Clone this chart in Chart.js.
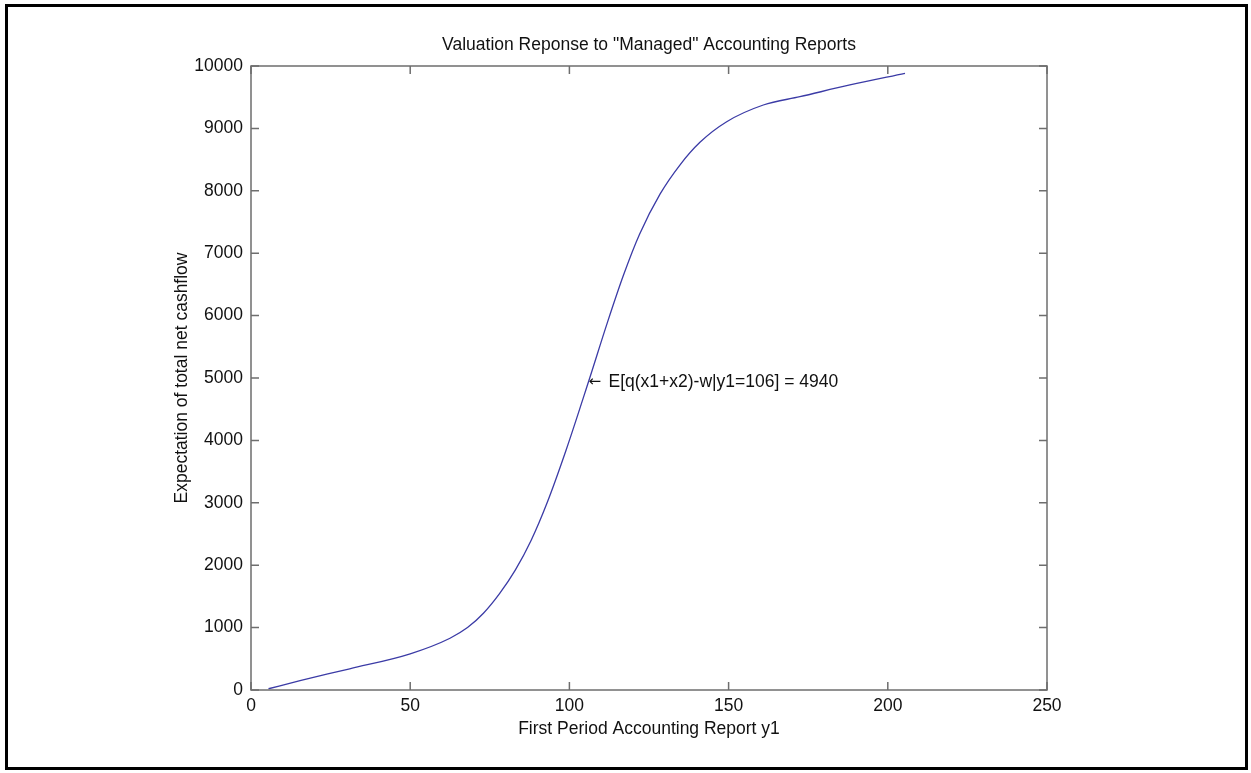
<!DOCTYPE html>
<html>
<head>
<meta charset="utf-8">
<script src="https://cdn.jsdelivr.net/npm/chart.js@4/dist/chart.umd.min.js"></script>
<style>
    body { margin: 0; background: #fff; }
    #wrap { position: relative; width: 1251px; height: 773px; }
    #frame { position: absolute; left: 5px; top: 4px; width: 1237px; height: 760px; border: 3px solid #000; pointer-events: none; }
    canvas { position: absolute; left: 0; top: 0; }
</style>
</head>
<body>
<div id="wrap">
    <canvas id="grafico" width="1251" height="773"></canvas>
    <div id="frame"></div>
</div>
<script>
// Datos
const reporteY1 = [5.5, 15.4, 31, 50, 62.5, 68, 73, 78, 83, 88, 93, 99, 106, 112, 117, 122, 128.5, 134.7, 141, 149.4, 160.9, 172.4, 188.1, 205.4];
const expectativa = [20, 150, 340, 580, 830, 1000, 1230, 1540, 1920, 2400, 3000, 3850, 4940, 5900, 6650, 7300, 7950, 8413, 8777, 9107, 9375, 9508, 9696, 9883];
const ticksX = [0, 50, 100, 150, 200, 250];
const ticksY = [0, 1000, 2000, 3000, 4000, 5000, 6000, 7000, 8000, 9000, 10000];
const notaX = 106;
const notaY = 4940;
const notaFlecha = "\u2190";
const notaTexto = "E[q(x1+x2)-w|y1=106] = 4940";

const fuente = "'Liberation Sans', Arial, sans-serif";
const tamFuente = 17.5;

// Caja con marcas hacia adentro (estilo MATLAB) y anotacion
const cajaPlugin = {
    id: "cajaMatlab",
    afterDraw(chart) {
        const { ctx, chartArea: a, scales: { x, y } } = chart;
        ctx.save();
        ctx.strokeStyle = "#6e6e6e";
        ctx.lineWidth = 1.5;
        ctx.strokeRect(a.left, a.top, a.right - a.left, a.bottom - a.top);
        ctx.beginPath();
        ticksX.forEach(v => {
            const px = x.getPixelForValue(v);
            ctx.moveTo(px, a.bottom); ctx.lineTo(px, a.bottom - 8);
            ctx.moveTo(px, a.top); ctx.lineTo(px, a.top + 8);
        });
        ticksY.forEach(v => {
            const py = y.getPixelForValue(v);
            ctx.moveTo(a.left, py); ctx.lineTo(a.left + 8, py);
            ctx.moveTo(a.right, py); ctx.lineTo(a.right - 8, py);
        });
        ctx.stroke();

        // Anotacion: flecha + texto
        const px = x.getPixelForValue(notaX);
        const py = y.getPixelForValue(notaY);
        ctx.fillStyle = "#111";
        ctx.textBaseline = "middle";
        ctx.textAlign = "left";
        ctx.font = "15px 'DejaVu Sans', sans-serif";
        ctx.fillText(notaFlecha, px, py);
        ctx.font = tamFuente + "px " + fuente;
        ctx.fillText(notaTexto, px + 20, py);
        ctx.restore();
    }
};

const puntos = reporteY1.map((v, i) => ({ x: v, y: expectativa[i] }));

new Chart(document.getElementById("grafico").getContext("2d"), {
    type: "scatter",
    data: {
        datasets: [{
            data: puntos,
            showLine: true,
            borderColor: "#3b3ba6",
            borderWidth: 1.3,
            pointRadius: 0,
            cubicInterpolationMode: "monotone",
            fill: false
        }]
    },
    options: {
        responsive: false,
        animation: false,
        layout: { padding: { top: 0, right: 204, bottom: 0, left: 0 } },
        plugins: {
            legend: { display: false },
            tooltip: { enabled: false },
            title: {
                display: true,
                fullSize: false,
                text: 'Valuation Reponse to "Managed" Accounting Reports',
                color: "#111",
                font: { family: fuente, size: tamFuente, weight: "normal" },
                padding: { top: 35, bottom: 10 }
            }
        },
        scales: {
            x: {
                type: "linear",
                min: 0,
                max: 250,
                afterFit: s => { s.height = 83; },
                afterBuildTicks: s => { s.ticks = ticksX.map(v => ({ value: v })); },
                grid: { display: false, drawTicks: false },
                border: { display: false },
                ticks: { color: "#111", padding: 6, font: { family: fuente, size: tamFuente }, callback: v => String(v) },
                title: {
                    display: true,
                    text: "First Period Accounting Report y1",
                    color: "#111",
                    font: { family: fuente, size: tamFuente },
                    padding: { top: 0, bottom: 33.5 }
                }
            },
            y: {
                type: "linear",
                min: 0,
                max: 10000,
                afterFit: s => { s.width = 251; },
                afterBuildTicks: s => { s.ticks = ticksY.map(v => ({ value: v })); },
                grid: { display: false, drawTicks: false },
                border: { display: false },
                ticks: { color: "#111", padding: 8, font: { family: fuente, size: tamFuente }, callback: v => String(v) },
                title: {
                    display: true,
                    text: "Expectation of total net cashflow",
                    color: "#111",
                    font: { family: fuente, size: tamFuente },
                    padding: { top: 172, bottom: 0 }
                }
            }
        }
    },
    plugins: [cajaPlugin]
});
</script>
</body>
</html>
